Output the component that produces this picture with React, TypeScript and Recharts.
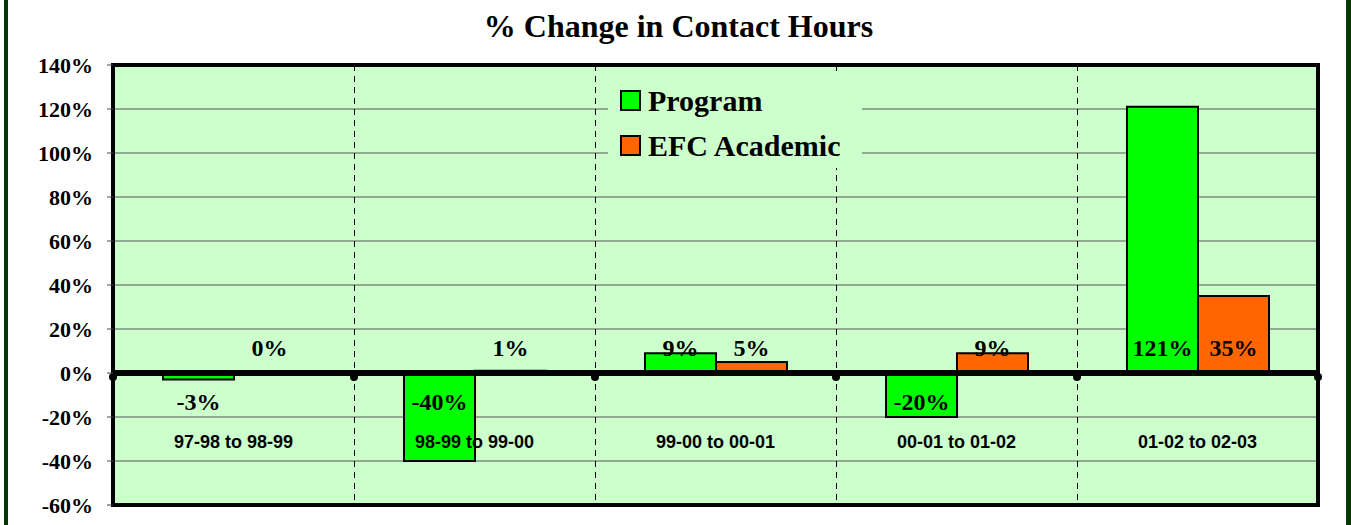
import {
  BarChart,
  Bar,
  XAxis,
  YAxis,
  CartesianGrid,
  Legend,
  LabelList,
  ReferenceLine,
  ReferenceArea,
} from 'recharts';

const periods = ['97-98 to 98-99', '98-99 to 99-00', '99-00 to 00-01', '00-01 to 01-02', '01-02 to 02-03'];
const programChange = [-3, -40, 9, -20, 121];
const efcChange = [0, 1, 5, 9, 35];
const yTicks = [-60, -40, -20, 0, 20, 40, 60, 80, 100, 120, 140];
const seriesOrder = ['program', 'efc'];

const data = periods.map((period, i) => ({
  period,
  program: programChange[i],
  efc: efcChange[i],
}));

const serif = '"Liberation Serif", "Times New Roman", serif';
const sans = '"Liberation Sans", Arial, sans-serif';

// Excel "inside base" labels: sit just off the zero line on the bar's side
const BaseLabel = (props: any) => {
  const { x, y, width, height, value } = props;
  const top = Math.min(y, y + height);
  const bottom = Math.max(y, y + height);
  const cy = value >= 0 ? bottom - 25 : top + 29;
  return (
    <text
      x={x + width / 2}
      y={cy}
      textAnchor='middle'
      dominantBaseline='central'
      fontFamily={serif}
      fontWeight='bold'
      fontSize={24}
      fill='#000'
    >
      {value}%
    </text>
  );
};

const PeriodTick = (props: any) => {
  const { x, y, payload } = props;
  return (
    <text
      x={x}
      y={y - 63}
      textAnchor='middle'
      dominantBaseline='central'
      fontFamily={sans}
      fontWeight='bold'
      fontSize={18}
      fill='#000'
    >
      {payload.value}
    </text>
  );
};

const LegendBox = ({ payload }: any) => {
  const items = [...(payload || [])].sort(
    (a: any, b: any) => seriesOrder.indexOf(a.dataKey) - seriesOrder.indexOf(b.dataKey)
  );
  return (
    <div style={{ background: '#CCFFCC', padding: '2px 0 0 12px' }}>
      {items.map((p: any) => (
        <div key={p.value} style={{ display: 'flex', alignItems: 'center', height: 45 }}>
          <span
            style={{
              display: 'inline-block',
              width: 17,
              height: 17,
              background: p.color,
              border: '2px solid #000',
              marginRight: 7,
            }}
          />
          <span style={{ fontFamily: serif, fontWeight: 'bold', fontSize: 30, color: '#000' }}>{p.value}</span>
        </div>
      ))}
    </div>
  );
};

// category boundaries sit between bands: split the plot width evenly
const boundaryX = (left: number, width: number) =>
  periods.map((_, i) => left + (i * width) / periods.length).concat(left + width);

// thick zero axis with round tick marks at the category boundaries
const ZeroAxis = (props: any) => {
  const { x1, x2, y1 } = props;
  const xs = boundaryX(Math.min(x1, x2), Math.abs(x2 - x1));
  return (
    <g>
      <line x1={x1} x2={x2} y1={y1} y2={y1} stroke='#000' strokeWidth={6} />
      {xs.map((x) => (
        <circle key={x} cx={x} cy={y1 + 4} r={4} fill='#000' />
      ))}
    </g>
  );
};

const App = () => {
  return (
    <div style={{ position: 'absolute', left: 0, top: 0, width: 1351, height: 525, background: '#fff' }}>
      <div style={{ position: 'absolute', left: 4, top: 0, width: 4, height: 525, background: '#063806' }} />
      <div style={{ position: 'absolute', left: 1346, top: 0, width: 5, height: 525, background: '#063806' }} />
      <div
        style={{
          position: 'absolute',
          left: 3,
          top: 8,
          width: 1351,
          textAlign: 'center',
          fontFamily: serif,
          fontWeight: 'bold',
          fontSize: 32,
          lineHeight: '37px',
        }}
      >
        % Change in Contact Hours
      </div>
      <div style={{ position: 'absolute', left: 0, top: 0 }}>
        <BarChart
          width={1351}
          height={525}
          data={data}
          barCategoryGap={50}
          barGap={0}
          margin={{ top: 65, right: 33, bottom: 19, left: 0 }}
        >
          <CartesianGrid stroke='#555' fill='#CCFFCC' fillOpacity={1} horizontal vertical={false} />
          <CartesianGrid
            horizontal={false}
            stroke='#000'
            strokeDasharray='6 5'
            verticalCoordinatesGenerator={({ offset }: any) =>
              boundaryX(offset.left, offset.width)
                .slice(1, periods.length)
                .map((x) => x + 0.5)
            }
          />
          <XAxis
            dataKey='period'
            height={1}
            axisLine={false}
            tickLine={false}
            tickSize={0}
            tickMargin={0}
            interval={0}
            tick={<PeriodTick />}
          />
          <YAxis
            domain={[-60, 140]}
            ticks={yTicks}
            interval={0}
            width={113}
            axisLine={false}
            tickSize={6}
            tickMargin={14}
            tickLine={{ stroke: '#444' }}
            tickFormatter={(v: number) => `${v}%`}
            tick={{ fontFamily: serif, fontWeight: 'bold', fontSize: 22, fill: '#000' }}
          />
          <Legend
            layout='vertical'
            align='center'
            verticalAlign='middle'
            content={<LegendBox />}
            wrapperStyle={{ left: 608, top: 76, width: 254, height: 92 }}
          />
          <Bar dataKey='program' name='Program' fill='#00FF00' stroke='#000' strokeWidth={2} minPointSize={1} isAnimationActive={false}>
            <LabelList dataKey='program' content={<BaseLabel />} />
          </Bar>
          <Bar dataKey='efc' name='EFC Academic' fill='#FF6600' stroke='#000' strokeWidth={2} minPointSize={1} isAnimationActive={false}>
            <LabelList dataKey='efc' content={<BaseLabel />} />
          </Bar>
          <ReferenceLine y={0} stroke='#000' strokeWidth={6} shape={<ZeroAxis />} />
          <ReferenceArea y1={-60} y2={140} fill='none' stroke='#000' strokeWidth={4} ifOverflow='visible' />
        </BarChart>
      </div>
    </div>
  );
};

export default App;
